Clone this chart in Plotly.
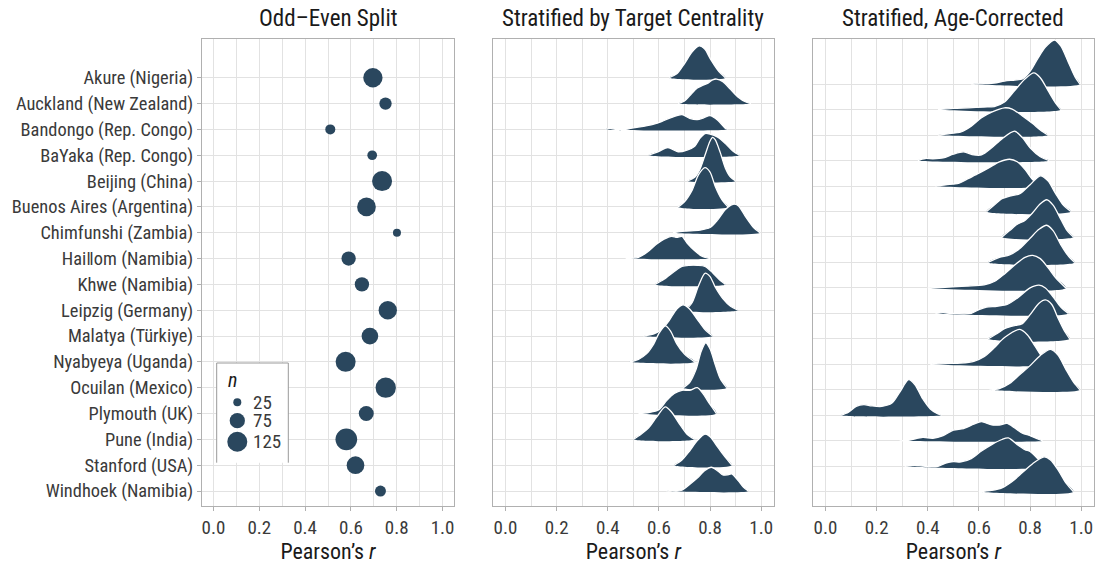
import math
import plotly.graph_objects as go

# Split-half reliability per site: odd-even split and two stratified resampling schemes

sites = [
    "Akure (Nigeria)", "Auckland (New Zealand)", "Bandongo (Rep. Congo)", "BaYaka (Rep. Congo)",
    "Beijing (China)", "Buenos Aires (Argentina)", "Chimfunshi (Zambia)", "Haiǁom (Namibia)",
    "Khwe (Namibia)", "Leipzig (Germany)", "Malatya (Türkiye)", "Nyabyeya (Uganda)",
    "Ocuilan (Mexico)", "Plymouth (UK)", "Pune (India)", "Stanford (USA)", "Windhoek (Namibia)",
]

odd_even_r = [0.696, 0.751, 0.510, 0.693, 0.736, 0.668, 0.801, 0.590, 0.648,
              0.761, 0.683, 0.577, 0.752, 0.667, 0.580, 0.620, 0.729]
n_children = [117, 51, 36, 34, 125, 110, 25, 67, 67, 106, 89, 125, 129, 73, 146, 99, 42]
legend_n = [25, 75, 125]

# density profiles (r, relative height)
strat_r = [
    [0.64, 0.67, 0.70, 0.73, 0.757, 0.78, 0.80, 0.83, 0.86],
    [0.675, 0.70, 0.72, 0.75, 0.77, 0.79, 0.81, 0.825, 0.85, 0.88, 0.91, 0.94, 0.96],
    [0.39, 0.41, 0.43, 0.47, 0.50, 0.54, 0.58, 0.61, 0.645, 0.69, 0.72, 0.75, 0.775, 0.80, 0.83, 0.86, 0.87],
    [0.56, 0.60, 0.635, 0.675, 0.71, 0.74, 0.76, 0.78, 0.80, 0.83, 0.86, 0.89, 0.915],
    [0.71, 0.74, 0.76, 0.78, 0.80, 0.81, 0.82, 0.84, 0.86, 0.88, 0.90],
    [0.675, 0.70, 0.73, 0.755, 0.78, 0.80, 0.82, 0.845, 0.87],
    [0.655, 0.70, 0.76, 0.80, 0.83, 0.86, 0.89, 0.91, 0.94, 0.97, 0.995],
    [0.47, 0.52, 0.555, 0.59, 0.62, 0.65, 0.67, 0.69, 0.71, 0.74, 0.77, 0.80],
    [0.585, 0.62, 0.66, 0.69, 0.72, 0.75, 0.78, 0.81, 0.84, 0.86],
    [0.705, 0.73, 0.755, 0.78, 0.80, 0.82, 0.85, 0.88, 0.91],
    [0.54, 0.58, 0.61, 0.64, 0.67, 0.695, 0.72, 0.75, 0.78, 0.81],
    [0.485, 0.52, 0.55, 0.58, 0.60, 0.625, 0.645, 0.67, 0.70, 0.74],
    [0.695, 0.72, 0.745, 0.765, 0.783, 0.80, 0.82, 0.84, 0.865],
    [0.52, 0.56, 0.60, 0.63, 0.66, 0.69, 0.72, 0.75, 0.77, 0.80, 0.825],
    [0.50, 0.53, 0.56, 0.59, 0.625, 0.65, 0.68, 0.71, 0.74],
    [0.66, 0.69, 0.72, 0.75, 0.78, 0.80, 0.83, 0.86, 0.885],
    [0.63, 0.65, 0.67, 0.69, 0.72, 0.75, 0.78, 0.805, 0.83, 0.85, 0.87, 0.885, 0.91, 0.93, 0.95],
]
strat_h = [
    [0, 0.15, 0.55, 1.0, 1.23, 1.1, 0.75, 0.3, 0],
    [0, 0.1, 0.3, 0.6, 0.7, 0.78, 0.92, 0.95, 0.85, 0.55, 0.25, 0.06, 0],
    [0, 0.04, 0, 0, 0.06, 0.12, 0.2, 0.3, 0.45, 0.57, 0.43, 0.38, 0.45, 0.53, 0.35, 0.04, 0],
    [0, 0.15, 0.3, 0.13, 0.2, 0.35, 0.65, 0.84, 0.82, 0.7, 0.45, 0.15, 0],
    [0, 0.15, 0.45, 1.0, 1.55, 1.69, 1.6, 1.1, 0.5, 0.15, 0],
    [0, 0.2, 0.65, 1.25, 1.52, 1.35, 0.8, 0.3, 0],
    [0, 0.06, 0.1, 0.2, 0.5, 0.9, 1.1, 1.05, 0.6, 0.2, 0],
    [0, 0.05, 0.25, 0.55, 0.75, 0.86, 0.82, 0.86, 0.6, 0.3, 0.08, 0],
    [0, 0.2, 0.5, 0.7, 0.74, 0.74, 0.7, 0.45, 0.15, 0],
    [0, 0.3, 0.95, 1.43, 1.3, 0.9, 0.45, 0.15, 0],
    [0, 0.08, 0.25, 0.6, 1.05, 1.21, 1.05, 0.65, 0.25, 0],
    [0, 0.1, 0.3, 0.7, 1.1, 1.39, 1.2, 0.7, 0.3, 0],
    [0, 0.2, 0.7, 1.4, 1.74, 1.5, 0.9, 0.35, 0],
    [0, 0.04, 0.15, 0.5, 0.78, 0.9, 0.9, 1.0, 0.8, 0.35, 0],
    [0, 0.2, 0.45, 0.85, 1.26, 1.05, 0.6, 0.2, 0],
    [0, 0.2, 0.55, 0.95, 1.2, 1.1, 0.7, 0.3, 0],
    [0, 0.02, 0, 0.03, 0.25, 0.5, 0.8, 0.92, 0.78, 0.62, 0.63, 0.66, 0.4, 0.15, 0],
]

age_r = [
    [0.57, 0.62, 0.66, 0.70, 0.74, 0.77, 0.80, 0.83, 0.86, 0.895, 0.92, 0.95, 0.975, 0.995],
    [0.44, 0.50, 0.56, 0.62, 0.66, 0.70, 0.74, 0.78, 0.815, 0.84, 0.87, 0.90, 0.92],
    [0.44, 0.48, 0.53, 0.57, 0.61, 0.65, 0.70, 0.73, 0.77, 0.81, 0.84, 0.87],
    [0.36, 0.39, 0.42, 0.46, 0.50, 0.54, 0.58, 0.61, 0.65, 0.69, 0.74, 0.77, 0.80, 0.84, 0.875],
    [0.43, 0.47, 0.52, 0.56, 0.60, 0.64, 0.68, 0.72, 0.75, 0.78, 0.81, 0.84],
    [0.63, 0.66, 0.69, 0.72, 0.76, 0.80, 0.84, 0.87, 0.90, 0.93, 0.96],
    [0.69, 0.72, 0.75, 0.78, 0.81, 0.84, 0.865, 0.89, 0.92, 0.945, 0.97],
    [0.635, 0.68, 0.72, 0.76, 0.80, 0.835, 0.865, 0.89, 0.92, 0.95, 0.975],
    [0.40, 0.48, 0.55, 0.62, 0.66, 0.70, 0.74, 0.78, 0.81, 0.84, 0.87, 0.90, 0.94],
    [0.43, 0.46, 0.49, 0.57, 0.60, 0.63, 0.67, 0.71, 0.75, 0.80, 0.835, 0.86, 0.89, 0.92, 0.95],
    [0.635, 0.67, 0.70, 0.73, 0.77, 0.80, 0.835, 0.86, 0.885, 0.91, 0.935, 0.955],
    [0.41, 0.47, 0.53, 0.58, 0.62, 0.66, 0.70, 0.76, 0.79, 0.82, 0.85, 0.88],
    [0.64, 0.68, 0.72, 0.76, 0.80, 0.84, 0.88, 0.91, 0.94, 0.97, 0.995],
    [0.06, 0.09, 0.12, 0.15, 0.18, 0.22, 0.26, 0.29, 0.325, 0.35, 0.38, 0.41, 0.44, 0.455],
    [0.29, 0.33, 0.38, 0.42, 0.46, 0.50, 0.54, 0.58, 0.61, 0.65, 0.68, 0.71, 0.74, 0.77, 0.80, 0.83, 0.85],
    [0.31, 0.35, 0.39, 0.44, 0.47, 0.50, 0.53, 0.57, 0.61, 0.65, 0.69, 0.715, 0.75, 0.78, 0.80, 0.83, 0.86],
    [0.60, 0.65, 0.69, 0.73, 0.77, 0.81, 0.855, 0.88, 0.91, 0.94, 0.97],
]
age_h = [
    [0, 0.02, 0.04, 0.12, 0.16, 0.2, 0.5, 1.0, 1.45, 1.73, 1.5, 0.85, 0.3, 0],
    [0, 0.05, 0.07, 0.1, 0.12, 0.3, 0.75, 1.2, 1.44, 1.25, 0.75, 0.25, 0],
    [0, 0.05, 0.12, 0.35, 0.68, 0.9, 1.07, 1.02, 0.75, 0.45, 0.2, 0],
    [0, 0.08, 0.07, 0.1, 0.25, 0.34, 0.22, 0.22, 0.5, 0.85, 1.15, 0.9, 0.5, 0.15, 0],
    [0, 0.05, 0.1, 0.3, 0.5, 0.72, 0.95, 1.05, 0.95, 0.65, 0.25, 0],
    [0, 0.25, 0.5, 0.6, 0.7, 1.05, 1.4, 1.2, 0.7, 0.25, 0],
    [0, 0.25, 0.5, 0.65, 0.95, 1.3, 1.46, 1.25, 0.7, 0.25, 0],
    [0, 0.2, 0.3, 0.55, 0.95, 1.3, 1.46, 1.25, 0.7, 0.25, 0],
    [0, 0.03, 0.07, 0.12, 0.25, 0.55, 0.9, 1.2, 1.28, 1.15, 0.8, 0.4, 0],
    [0, 0.03, 0, 0, 0.15, 0.25, 0.28, 0.35, 0.6, 1.0, 1.11, 1.0, 0.65, 0.25, 0],
    [0, 0.2, 0.4, 0.5, 0.6, 0.95, 1.4, 1.53, 1.35, 0.8, 0.3, 0],
    [0, 0.03, 0.05, 0.12, 0.3, 0.65, 1.05, 1.37, 1.15, 0.7, 0.25, 0],
    [0, 0.05, 0.25, 0.6, 0.95, 1.35, 1.59, 1.35, 0.8, 0.3, 0],
    [0, 0.12, 0.35, 0.42, 0.37, 0.35, 0.48, 0.9, 1.4, 1.2, 0.65, 0.25, 0.05, 0],
    [0, 0.03, 0.13, 0.1, 0.2, 0.42, 0.48, 0.65, 0.75, 0.62, 0.62, 0.68, 0.5, 0.3, 0.2, 0.07, 0],
    [0, 0.04, 0, 0, 0.12, 0.18, 0.17, 0.3, 0.6, 0.85, 1.05, 1.11, 0.85, 0.65, 0.58, 0.3, 0],
    [0, 0.05, 0.15, 0.4, 0.75, 1.1, 1.37, 1.25, 0.85, 0.35, 0],
]

titles = ["Odd–Even Split", "Stratified by Target Centrality", "Stratified, Age-Corrected"]

NAVY = "#2a475e"
FONT = "Roboto Condensed, Roboto, sans-serif"
W, H = 1095, 564


def fx(px):
    return px / W


def fy(py):
    return 1 - py / H


def dot_size(n):
    # ggplot-like size scale: area linear in n
    return math.sqrt(max(3.36 * n - 20, 1))


rows = [len(sites) - i for i in range(len(sites))]  # Akure on top

fig = go.Figure()

fig.add_trace(go.Scatter(
    x=odd_even_r, y=rows, mode="markers",
    marker=dict(size=[dot_size(v) for v in n_children], color=NAVY, opacity=1, line=dict(width=0)),
    xaxis="x", yaxis="y", showlegend=False, hoverinfo="skip",
))

for ax, rr, hh in [("2", strat_r, strat_h), ("3", age_r, age_h)]:
    for i in range(len(sites)):
        base = rows[i]
        ys = [base + v for v in hh[i]]
        fig.add_trace(go.Scatter(
            x=rr[i] + [rr[i][0]], y=ys + [base], mode="lines", fill="toself",
            fillcolor=NAVY, line=dict(width=0, shape="spline", smoothing=0.8),
            xaxis="x" + ax, yaxis="y" + ax, showlegend=False, hoverinfo="skip",
        ))
        fig.add_trace(go.Scatter(
            x=rr[i], y=ys, mode="lines",
            line=dict(color="white", width=1.3, shape="spline", smoothing=0.8),
            xaxis="x" + ax, yaxis="y" + ax, showlegend=False, hoverinfo="skip",
        ))

grid = "#e2e2e2"
frame = "#b0b0b0"
xcommon = dict(
    range=[-0.05, 1.05], tickvals=[0, 0.2, 0.4, 0.6, 0.8, 1.0],
    ticktext=["0.0", "0.2", "0.4", "0.6", "0.8", "1.0"],
    showgrid=True, gridcolor=grid, gridwidth=1,
    minor=dict(dtick=0.1, tick0=0, showgrid=True, gridcolor=grid, gridwidth=1, ticks=""),
    showline=True, mirror=True, linecolor=frame, linewidth=1.3,
    ticks="outside", ticklen=4, tickcolor=frame, zeroline=False,
    tickfont=dict(family=FONT, size=19, color="#3a3a3a"),
    title=dict(text="Pearson’s <i>r</i>", font=dict(family=FONT, size=22, color="#1a1a1a"), standoff=2),
    automargin=False, fixedrange=True,
)
ycommon = dict(
    tickvals=rows, showgrid=True, gridcolor=grid, gridwidth=1,
    showline=True, mirror=True, linecolor=frame, linewidth=1.3,
    zeroline=False, automargin=False, fixedrange=True,
    domain=[fy(506), fy(39)],
)

fig.update_layout(
    width=W, height=H, template="none",
    paper_bgcolor="white", plot_bgcolor="white",
    margin=dict(l=0, r=0, t=0, b=0),
    xaxis=dict(xcommon, domain=[fx(202), fx(454)], anchor="y"),
    xaxis2=dict(xcommon, domain=[fx(492.7), fx(774)], anchor="y2"),
    xaxis3=dict(xcommon, domain=[fx(812.7), fx(1094)], anchor="y3"),
    yaxis=dict(ycommon, range=[0.42, 18.5], ticktext=sites, ticks="outside", ticklen=4,
               tickcolor=frame, tickfont=dict(family=FONT, size=18.4, color="#3a3a3a"), anchor="x"),
    yaxis2=dict(ycommon, range=[0.42, 18.5], showticklabels=False, anchor="x2"),
    yaxis3=dict(ycommon, range=[0.44, 18.77], showticklabels=False, anchor="x3"),
    showlegend=False,
)

centers = [(202 + 454) / 2, (492.7 + 774) / 2, (812.7 + 1094) / 2]
for cx, t in zip(centers, titles):
    fig.add_annotation(x=fx(cx), y=fy(19), xref="paper", yref="paper", text=t, showarrow=False,
                       xanchor="center", yanchor="middle",
                       font=dict(family=FONT, size=23, color="#1a1a1a"))

# size legend box (open at the bottom, as in the original)
bx0, bx1, by0, by1 = fx(216.7), fx(288.3), fy(462.7), fy(363)
fig.add_shape(type="rect", xref="paper", yref="paper", x0=bx0, x1=bx1, y0=by0, y1=by1,
              fillcolor="white", line=dict(width=0), layer="above")
fig.add_shape(type="path", xref="paper", yref="paper",
              path=f"M {bx0} {by0} L {bx0} {by1} L {bx1} {by1} L {bx1} {by0}",
              line=dict(color="#999999", width=1), layer="above")
fig.add_annotation(x=fx(226), y=fy(380), xref="paper", yref="paper", text="<i>n</i>",
                   showarrow=False, xanchor="left", yanchor="middle",
                   font=dict(family=FONT, size=20, color="#1a1a1a"))
for nv, py in zip(legend_n, [402.3, 420.7, 441.7]):
    r = dot_size(nv) / 2
    fig.add_shape(type="circle", xref="paper", yref="paper", xsizemode="pixel", ysizemode="pixel",
                  xanchor=fx(237.3), yanchor=fy(py), x0=-r, x1=r, y0=-r, y1=r,
                  fillcolor=NAVY, line=dict(width=0), layer="above")
    fig.add_annotation(x=fx(251), y=fy(py), xref="paper", yref="paper", text=str(nv),
                       showarrow=False, xanchor="left", yanchor="middle",
                       font=dict(family=FONT, size=19, color="#3a3a3a"))

# drop the default page margin so the figure fills the window exactly
fig.write_html("out.html", config={"displayModeBar": False},
               post_script="document.body.style.margin='0';document.body.style.overflow='hidden';")
